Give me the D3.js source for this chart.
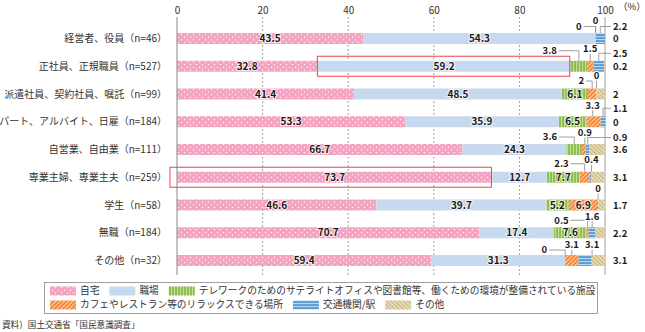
<!DOCTYPE html>
<html><head><meta charset="utf-8">
<script src="https://cdn.jsdelivr.net/npm/d3@7"></script>
<style>
body{margin:0;background:#fff;}
svg{display:block;font-family:"Noto Sans CJK JP","Noto Sans",sans-serif;}
</style></head><body>
<svg id="c" width="645" height="332"></svg>
<script>
// ---------- data ----------
const categories = ["経営者、役員（n=46）","正社員、正規職員（n=527）","派遣社員、契約社員、嘱託（n=99）","パート、アルバイト、日雇（n=184）","自営業、自由業（n=111）","専業主婦、専業主夫（n=259）","学生（n=58）","無職（n=184）","その他（n=32）"];
const seriesNames = ["自宅","職場","テレワークのためのサテライトオフィスや図書館等、働くための環境が整備されている施設","カフェやレストラン等のリラックスできる場所","交通機関/駅","その他"];
const home     = [43.5,32.8,41.4,53.3,66.7,73.7,46.6,70.7,59.4];
const office   = [54.3,59.2,48.5,35.9,24.3,12.7,39.7,17.4,31.3];
const telework = [0,3.8,6.1,6.5,3.6,7.7,5.2,7.6,0];
const cafe     = [0,1.5,2,3.3,0.9,2.3,6.9,0.5,3.1];
const transit  = [2.2,2.5,0,1.1,0.9,0.4,0,1.6,3.1];
const other    = [0,0.2,2,0,3.6,3.1,1.7,2.2,3.1];
const tickValues = [0,20,40,60,80,100];
const sourceText = "資料）国土交通省「国民意識調査」";
const highlights = [{row:1, s:1},{row:5, s:0}];

// ---------- layout / style ----------
const series = [home, office, telework, cafe, transit, other];
const fills = ["url(#pHome)","#c6d9ef","url(#pTele)","url(#pCafe)","url(#pTrans)","url(#pOther)"];
// annotation placement for small values: [seriesIndex, type, dx, dy]
const annot = [
  [[2,'leftUp',14,-6.5],[3,'up',0,-12],[4,'rightUp',0,-6.5],[5,'right']],
  [[2,'leftUp',22,-10],[3,'up',0,-12],[4,'rightUp',0,-7.5],[5,'right']],
  [[3,'leftUp',8,-7.5],[4,'up',0,-13],[5,'right']],
  [[3,'up',-1,-11],[4,'rightUp',0,-8],[5,'right']],
  [[2,'leftUp',17,-7],[3,'up',1,-11.5],[4,'rightUp',0,-6.5],[5,'right']],
  [[3,'leftUp',16,-8],[4,'up',1,-12],[5,'right']],
  [[4,'up',0,-11],[5,'right']],
  [[3,'leftUp',19,-7],[4,'up',0,-11],[5,'right']],
  [[2,'leftUp',18,-5],[3,'up',0,-10],[4,'up',7,-10],[5,'right']]
];

const svg = d3.select('#c');
const x = d3.scaleLinear().domain([0,100]).range([177,605]);
const y = d3.scalePoint().domain(d3.range(categories.length)).range([38.5,260.5]);
const barH = 11;
const textCol = "#231815";

// patterns
const defs = svg.append('defs');
let p = defs.append('pattern').attr('id','pHome').attr('patternUnits','userSpaceOnUse').attr('width',6).attr('height',5.5);
p.append('rect').attr('width',6).attr('height',5.5).attr('fill','#f3a3c1');
p.append('circle').attr('cx',1.5).attr('cy',1.4).attr('r',0.75).attr('fill','#fff');
p.append('circle').attr('cx',4.5).attr('cy',4.1).attr('r',0.75).attr('fill','#fff');

p = defs.append('pattern').attr('id','pTele').attr('patternUnits','userSpaceOnUse').attr('width',3).attr('height',4);
p.append('rect').attr('width',3).attr('height',4).attr('fill','#8cbc50');
p.append('rect').attr('width',1.1).attr('height',4).attr('fill','#c3df98');

p = defs.append('pattern').attr('id','pCafe').attr('patternUnits','userSpaceOnUse').attr('width',3).attr('height',3).attr('patternTransform','rotate(45)');
p.append('rect').attr('width',3).attr('height',3).attr('fill','#f5873a');
p.append('rect').attr('width',1).attr('height',3).attr('fill','#fcd3b0');

p = defs.append('pattern').attr('id','pTrans').attr('patternUnits','userSpaceOnUse').attr('width',4).attr('height',3);
p.append('rect').attr('width',4).attr('height',3).attr('fill','#5b9cd5');
p.append('rect').attr('width',4).attr('height',1.1).attr('fill','#bcd8ef');

p = defs.append('pattern').attr('id','pOther').attr('patternUnits','userSpaceOnUse').attr('width',3).attr('height',3).attr('patternTransform','rotate(-45)');
p.append('rect').attr('width',3).attr('height',3).attr('fill','#e6dab5');
p.append('rect').attr('width',1).attr('height',3).attr('fill','#c6b380');

// grid
const gTop = 17, gBot = 275;
svg.append('g').selectAll('line').data(tickValues.filter(v=>v>0 && v<100)).join('line')
  .attr('x1',d=>x(d)).attr('x2',d=>x(d)).attr('y1',gTop).attr('y2',gBot)
  .attr('stroke','#888').attr('stroke-width',0.8).attr('stroke-dasharray','2,2');
svg.append('line').attr('x1',x(100)).attr('x2',x(100)).attr('y1',gTop).attr('y2',gBot).attr('stroke','#a0a0a0').attr('stroke-width',1);

// axis top
const ax = svg.append('g').attr('transform','translate(0,14)')
  .call(d3.axisTop(x).tickValues(tickValues).tickSize(0).tickPadding(0).tickFormat(d3.format('d')));
ax.select('.domain').remove();
ax.selectAll('text').attr('font-size',10).attr('fill','#333').attr('font-family','"Noto Sans CJK JP",sans-serif');
svg.append('text').attr('x',618).attr('y',10).attr('font-size',9.5).attr('fill','#333').text('（%）');

// stacked segments
const segs = [];
categories.forEach((c,i)=>{
  let acc = 0;
  series.forEach((arr,s)=>{ segs.push({row:i,s,v:arr[i],x0:acc,x1:acc+arr[i]}); acc += arr[i]; });
});
svg.append('g').selectAll('rect').data(segs.filter(d=>d.v>0)).join('rect')
  .attr('x',d=>x(d.x0)).attr('width',d=>x(d.x1)-x(d.x0))
  .attr('y',d=>y(d.row)-barH/2).attr('height',barH)
  .attr('fill',d=>fills[d.s]);

// axis line at 0
svg.append('line').attr('x1',x(0)).attr('x2',x(0)).attr('y1',gTop).attr('y2',gBot).attr('stroke','#888').attr('stroke-width',1);

// category labels
svg.append('g').selectAll('text').data(categories).join('text')
  .attr('x',167).attr('y',(d,i)=>y(i)).attr('dy','0.35em')
  .attr('text-anchor','end').attr('font-size',10).attr('fill','#333').text(d=>d);

// inside labels
const inside = segs.filter(d=>d.s<2 || d.v>=5);
svg.append('g').selectAll('text').data(inside).join('text')
  .attr('x',d=>(x(d.x0)+x(d.x1))/2).attr('y',d=>y(d.row)).attr('dy','0.36em')
  .attr('text-anchor','middle').attr('font-size',10).attr('font-weight','bold')
  .attr('fill',textCol).attr('stroke','#fff').attr('stroke-width',2).attr('stroke-opacity',0.75)
  .attr('paint-order','stroke').text(d=>d.v);

// annotations
const ga = svg.append('g');
const rightX = x(100) + 8;
annot.forEach((list,i)=>{
  const top = y(i) - barH/2;
  list.forEach(([s,type,dx,dy])=>{
    const seg = segs.find(d=>d.row===i && d.s===s);
    const cx = (x(seg.x0)+x(seg.x1))/2;
    let tx, ty, anchor, path=null;
    if(type==='right'){ tx=rightX; ty=y(i)+0.5; anchor='start'; }
    else if(type==='rightUp'){ tx=rightX; ty=top+dy; anchor='start';
      path=`M${cx},${top}V${ty}H${rightX-2}`; }
    else if(type==='up'){ tx=cx+dx; ty=top+dy; anchor='middle';
      path=`M${cx+dx},${top}V${ty+5}`; }
    else { tx=cx-dx; ty=top+dy; anchor='end';
      path=`M${cx},${top}V${ty}H${tx+2}`; }
    if(path) ga.append('path').attr('d',path).attr('fill','none').attr('stroke','#888').attr('stroke-width',0.8);
    ga.append('text').attr('x',tx).attr('y',ty).attr('dy','0.36em').attr('text-anchor',anchor)
      .attr('font-size',9.5).attr('font-weight','bold').attr('fill',textCol)
      .attr('stroke','#fff').attr('stroke-width',2).attr('paint-order','stroke').text(seg.v);
  });
});

// highlight boxes
svg.append('g').selectAll('rect').data(highlights).join('rect')
  .attr('x',d=>{const seg=segs.find(e=>e.row===d.row&&e.s===d.s); return seg.x0===0 ? x(0)-7 : x(seg.x0);})
  .attr('width',d=>{const seg=segs.find(e=>e.row===d.row&&e.s===d.s); return x(seg.x1)-(seg.x0===0 ? x(0)-7 : x(seg.x0)) - 1;})
  .attr('y',d=>y(d.row)-10).attr('height',20)
  .attr('fill','none').attr('stroke','#e8474a').attr('stroke-width',1);

// legend
const lg = svg.append('g');
lg.append('rect').attr('x',44.5).attr('y',282.5).attr('width',553).attr('height',31).attr('fill','#fff').attr('stroke','#888').attr('stroke-width',0.8);
const legendRows = [[0,1,2],[3,4,5]];
legendRows.forEach((r,ri)=>{
  let cx = 50;
  const cy = 291 + ri*14;
  r.forEach(s=>{
    lg.append('rect').attr('x',cx).attr('y',cy-4.5).attr('width',26).attr('height',9).attr('fill',fills[s]);
    const t = lg.append('text').attr('x',cx+30).attr('y',cy).attr('dy','0.35em').attr('font-size',9.7).attr('fill','#333').text(seriesNames[s]);
    cx += 30 + t.node().getComputedTextLength() + 10;
  });
});

svg.append('text').attr('x',2).attr('y',325).attr('dy','0.35em').attr('font-size',8.6).attr('fill','#333').text(sourceText);
</script>
</body></html>
